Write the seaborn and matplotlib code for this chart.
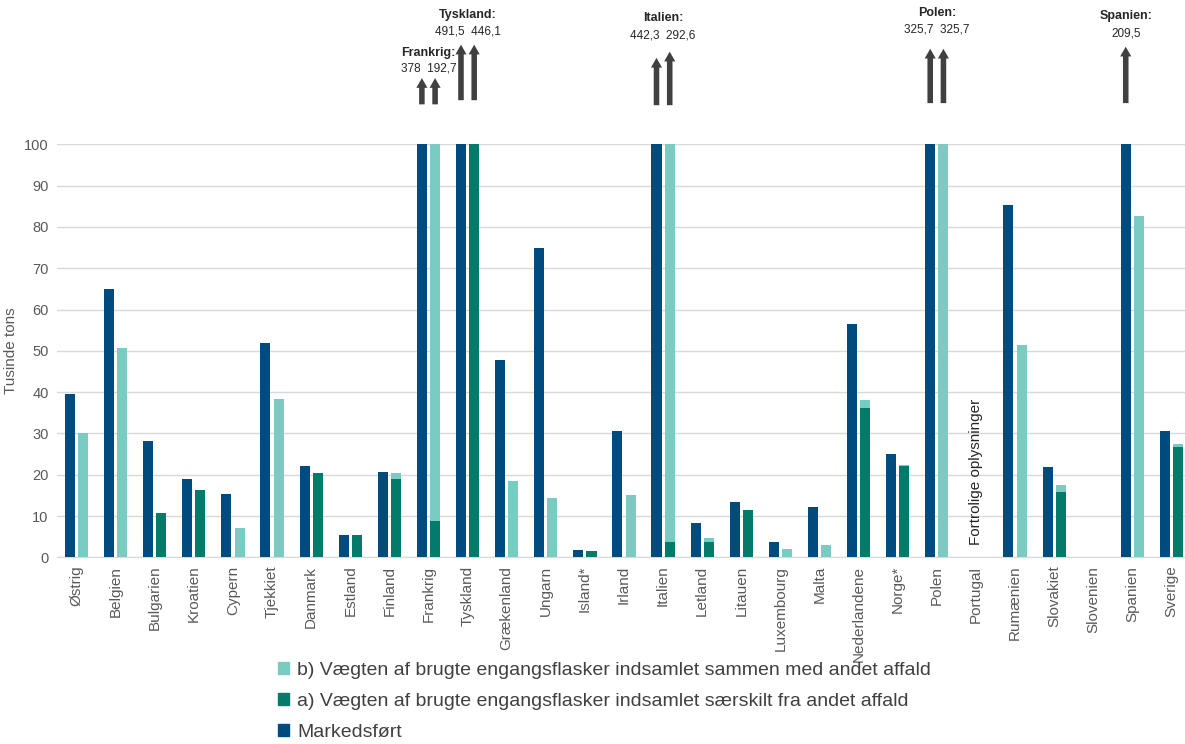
import numpy as np
import pandas as pd
import matplotlib
matplotlib.use('Agg')
import matplotlib.pyplot as plt
from matplotlib.patches import Patch
import seaborn as sns

# data (tusinde tons)
lande = ['Østrig', 'Belgien', 'Bulgarien', 'Kroatien', 'Cypern', 'Tjekkiet', 'Danmark',
         'Estland', 'Finland', 'Frankrig', 'Tyskland', 'Grækenland', 'Ungarn', 'Island*',
         'Irland', 'Italien', 'Letland', 'Litauen', 'Luxembourg', 'Malta', 'Nederlandene',
         'Norge*', 'Polen', 'Portugal', 'Rumænien', 'Slovakiet', 'Slovenien', 'Spanien', 'Sverige']
markedsfoert = [39.5, 65.0, 28.1, 19.0, 15.3, 51.9, 22.2, 5.3, 20.7, 378.0, 491.5, 47.8, 75.0, 1.8,
                30.6, 442.3, 8.4, 13.3, 3.6, 12.1, 56.4, 25.0, 325.7, np.nan, 85.3, 21.9, np.nan, 209.5, 30.6]
# a) indsamlet særskilt fra andet affald
saerskilt = [0, 0, 10.7, 16.4, 0, 0, 20.4, 5.3, 19.0, 8.7, 446.1, 0, 0, 1.5,
             0, 3.8, 3.8, 11.5, 0, 0, 36.2, 22.0, 0, np.nan, 0, 15.8, np.nan, 0, 26.6]
# b) indsamlet sammen med andet affald
sammen = [30.1, 50.7, 0, 0, 7.0, 38.4, 0, 0, 1.4, 184.0, 0, 18.4, 14.4, 0,
          15.0, 288.8, 0.9, 0, 2.1, 3.0, 2.0, 0.3, 325.7, np.nan, 51.3, 1.6, np.nan, 82.7, 0.9]

lbl_m = 'Markedsført'
lbl_a = 'a) Vægten af brugte engangsflasker indsamlet særskilt fra andet affald'
lbl_b = 'b) Vægten af brugte engangsflasker indsamlet sammen med andet affald'

c_m = '#004B7D'
c_a = '#037B6A'
c_b = '#7ACBC1'
grey = '#595959'

total = np.array(saerskilt) + np.array(sammen)
n = len(lande)

df_top = pd.DataFrame({
    'Land': lande * 2,
    'Serie': ['M'] * n + ['I'] * n,
    'Tons': list(markedsfoert) + list(total),
})
# lower (a) part of the collected bar; zero-height markedsført keeps the dodge slots
df_a = pd.DataFrame({
    'Land': lande * 2,
    'Serie': ['M'] * n + ['I'] * n,
    'Tons': [0.0] * n + list(saerskilt),
})

# arrow layout for bars over 100: (bottom, top of each arrow, value row y, title y)
pile = {
    'Frankrig': (109.0, [116.7, 116.7], 118.3, 122.0),
    'Tyskland': (110.0, [124.8, 124.8], 127.2, 131.3),
    'Italien': (108.8, [121.6, 123.1], 126.4, 130.6),
    'Polen': (109.3, [123.8, 123.8], 127.9, 131.8),
    'Spanien': (109.3, [124.3, 124.3], 126.9, 131.0),
}

sns.set_style('white')
plt.rcParams['font.family'] = ['Liberation Sans', 'DejaVu Sans']

fig = plt.figure(figsize=(11.85, 7.44), dpi=100)
ax = fig.add_axes([57 / 1185, 1 - 557.3 / 744, 1134 / 1185, 413 / 744])

width = 0.676
gap = 0.24
sns.barplot(data=df_top, x='Land', y='Tons', hue='Serie', order=lande, hue_order=['M', 'I'],
            palette={'M': c_m, 'I': c_b}, width=width, gap=gap, errorbar=None, saturation=1,
            legend=False, linewidth=0, ax=ax, zorder=3)
sns.barplot(data=df_a, x='Land', y='Tons', hue='Serie', order=lande, hue_order=['M', 'I'],
            palette={'M': c_m, 'I': c_a}, width=width, gap=gap, errorbar=None, saturation=1,
            legend=False, linewidth=0, ax=ax, zorder=4)

ax.set_ylim(0, 100)
ax.set_xlim(-0.5, n - 0.5)
ax.set_yticks(range(0, 101, 10))
ax.yaxis.grid(True, color='#D9D9D9', lw=1, zorder=0)
ax.xaxis.grid(False)
for s in ['top', 'right', 'left']:
    ax.spines[s].set_visible(False)
ax.spines['bottom'].set_color('#D9D9D9')
ax.tick_params(axis='both', length=0, colors=grey)
ax.tick_params(axis='x', rotation=90, pad=6, labelsize=11)
ax.tick_params(axis='y', pad=6, labelsize=10.5)
ax.set_xlabel('')
ax.set_ylabel('Tusinde tons', color=grey, fontsize=11, labelpad=4)

# confidential note for Portugal
ax.text(lande.index('Portugal'), 3, 'Fortrolige oplysninger', rotation=90, ha='center',
        va='bottom', fontsize=11, color='#262626')


def fmt(v):
    s = f'{v:.1f}'.replace('.', ',')
    return s[:-2] if s.endswith(',0') else s


off = width / 4
for land, (y0, tops, y_val, y_tit) in pile.items():
    i = lande.index(land)
    vals = [(i - off, markedsfoert[i]), (i + off, total[i])]
    vals = [(x, v) for x, v in vals if v > 100]
    for (x, v), yt in zip(vals, tops):
        ax.annotate('', xy=(x, yt), xytext=(x, y0), xycoords='data', annotation_clip=False,
                    arrowprops=dict(arrowstyle='simple,head_width=0.8,head_length=0.7,tail_width=0.4',
                                    color='#404040', lw=0))
    xc = np.mean([x for x, _ in vals])
    ax.text(xc, y_val, '  '.join(fmt(v) for _, v in vals), ha='center', va='center',
            fontsize=8.5, color='#262626', clip_on=False)
    ax.text(xc, y_tit, land + ':', ha='center', va='center', fontsize=9, fontweight='bold',
            color='#262626', clip_on=False)

handles = [Patch(color=c_b, label=lbl_b), Patch(color=c_a, label=lbl_a), Patch(color=c_m, label=lbl_m)]
fig.legend(handles=handles, loc='upper left', bbox_to_anchor=(270 / 1185, 1 - 654 / 744),
           frameon=False, handlelength=0.6, handleheight=0.6, handletextpad=0.4,
           labelspacing=0.72, labelcolor='#404040', borderaxespad=0,
           prop={'size': 14})

fig.savefig('out.png', dpi=100)
